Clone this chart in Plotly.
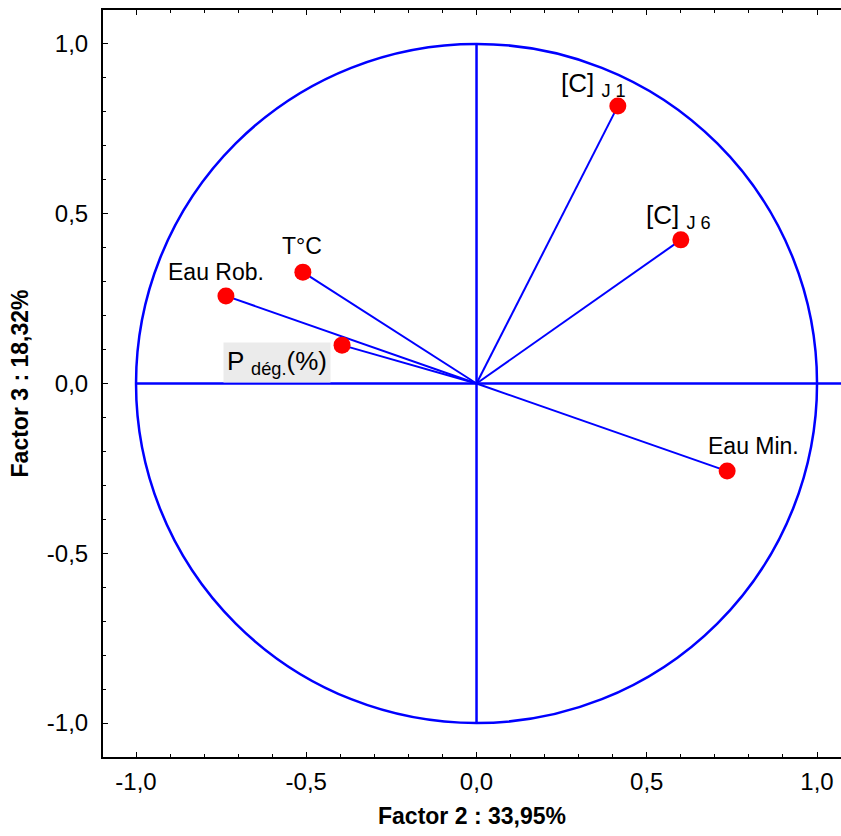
import plotly.graph_objects as go

# ---- data ----
var_names = ["[C] <sub>J 1</sub>", "[C] <sub>J 6</sub>", "T°C", "Eau Rob.",
             "P <sub>dég.</sub>(%)", "Eau Min."]
factor2 = [0.415, 0.600, -0.510, -0.736, -0.395, 0.736]
factor3 = [0.817, 0.423, 0.328, 0.258, 0.113, -0.258]

tick_vals = [-1.0, -0.5, 0.0, 0.5, 1.0]
tick_text = ["-1,0", "-0,5", "0,0", "0,5", "1,0"]

x_title = "Factor 2 : 33,95%"
y_title = "Factor 3 : 18,32%"

# label placement (pixel offsets from each point) and styling
label_dx = [-24, -2, -1, -10, -65, 26]
label_dy = [22, 23, 26, 24, -17, 25]
label_size = [26, 26, 23, 23, 26, 23]
label_bg = [None, None, None, None, "#ebebeb", None]

FONT = "Liberation Sans, Arial, Helvetica, sans-serif"
BLUE = "#0000ff"
X_RANGE = [-1.097, 1.0704]
Y_RANGE = [-1.1, 1.1]

fig = go.Figure()

# vectors from origin
for fx, fy in zip(factor2, factor3):
    fig.add_trace(go.Scatter(x=[0, fx], y=[0, fy], mode="lines",
                             line=dict(color=BLUE, width=2),
                             hoverinfo="skip", showlegend=False))

# points
fig.add_trace(go.Scatter(x=factor2, y=factor3, mode="markers",
                         marker=dict(color="#ff0000", size=17, line=dict(width=0)),
                         showlegend=False))

# unit circle and axes cross
fig.add_shape(type="circle", xref="x", yref="y", x0=-1, x1=1, y0=-1, y1=1,
              line=dict(color=BLUE, width=2.5), layer="below")
fig.add_shape(type="line", xref="x", yref="y", x0=-1, x1=X_RANGE[1], y0=0, y1=0,
              line=dict(color=BLUE, width=2.5), layer="below")
fig.add_shape(type="line", xref="x", yref="y", x0=0, x1=0, y0=-1, y1=1,
              line=dict(color=BLUE, width=2.5), layer="below")

# labels
for name, fx, fy, dx, dy, sz, bg in zip(var_names, factor2, factor3,
                                        label_dx, label_dy, label_size, label_bg):
    ann = dict(x=fx, y=fy, xref="x", yref="y", text=name, showarrow=False,
               xshift=dx, yshift=dy, xanchor="center", yanchor="middle",
               font=dict(family=FONT, size=sz, color="black"))
    if bg:
        ann["bgcolor"] = bg
        ann["borderpad"] = 3
    fig.add_annotation(**ann)

axis_common = dict(
    showgrid=False, zeroline=False,
    showline=True, linecolor="black", linewidth=2,
    ticks="inside", ticklen=5, tickwidth=1.3, tickcolor="black",
    tickvals=tick_vals, ticktext=tick_text,
    tickfont=dict(family=FONT, size=24, color="black"),
    minor=dict(ticks="inside", dtick=0.1, tick0=0, ticklen=3, tickwidth=1, tickcolor="black"),
)

fig.update_xaxes(range=X_RANGE, mirror="ticks", ticklabelstandoff=2,
                 title=dict(text=x_title, font=dict(family=FONT, size=23, color="black", weight="bold"),
                            standoff=14),
                 **axis_common)
fig.update_yaxes(range=Y_RANGE, mirror=False, ticklabelstandoff=8,
                 title=dict(text=y_title, font=dict(family=FONT, size=23, color="black", weight="bold"),
                            standoff=12),
                 **axis_common)

fig.update_layout(
    width=841, height=836,
    margin=dict(l=103, r=0, t=10, b=79),
    plot_bgcolor="white", paper_bgcolor="white",
    showlegend=False,
    separators=", ",
)

fig.write_html("out.html")
